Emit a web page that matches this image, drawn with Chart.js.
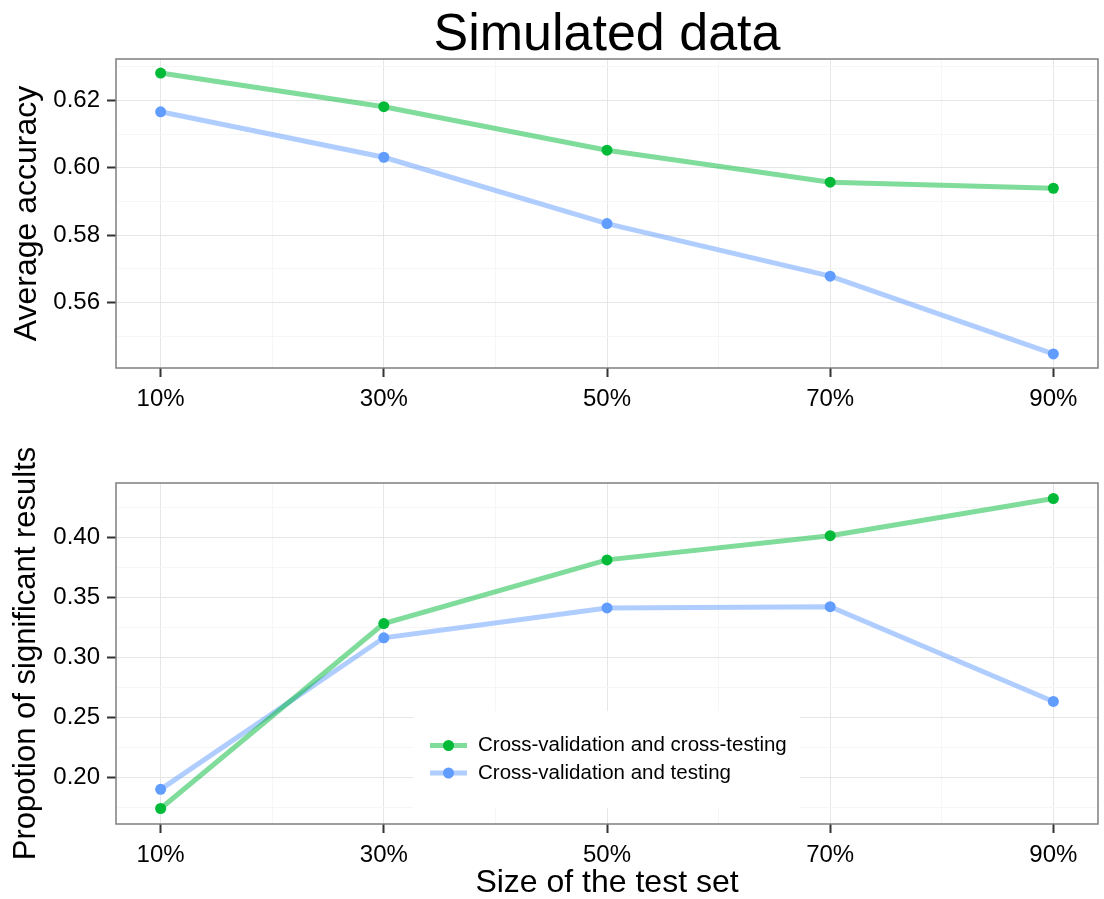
<!DOCTYPE html>
<html>
<head>
<meta charset="utf-8">
<title>Simulated data</title>
<script src="https://cdn.jsdelivr.net/npm/chart.js@4.4.1/dist/chart.umd.min.js"></script>
<style>
  html, body { margin: 0; padding: 0; background: #fff; }
  #wrap { position: relative; width: 1104px; height: 899px; }
  .box { position: absolute; left: 0; width: 1104px; }
  #topBox { top: 0; height: 420px; }
  #bottomBox { top: 420px; height: 479px; }
</style>
</head>
<body>
<div id="wrap">
  <div class="box" id="topBox"><canvas id="accChart"></canvas></div>
  <div class="box" id="bottomBox"><canvas id="sigChart"></canvas></div>
</div>
<script>
// ---- data ----
const testSizes = [10, 30, 50, 70, 90];
const seriesNames = ['Cross-validation and cross-testing', 'Cross-validation and testing'];

const accCrossTesting = [0.6281, 0.6181, 0.6052, 0.5957, 0.5939];
const accTesting      = [0.6166, 0.6031, 0.5834, 0.5678, 0.5447];

const sigCrossTesting = [0.1738, 0.3281, 0.3812, 0.4014, 0.4324];
const sigTesting      = [0.1898, 0.3162, 0.3411, 0.3422, 0.2631];

// ---- ticks (major labelled, minor only gridlines) ----
const xMajor = [10, 30, 50, 70, 90];
const xMinor = [20, 40, 60, 80];
const accMajor = [0.56, 0.58, 0.60, 0.62];
const accMinor = [0.55, 0.57, 0.59, 0.61, 0.63];
const sigMajor = [0.20, 0.25, 0.30, 0.35, 0.40];
const sigMinor = [0.175, 0.225, 0.275, 0.325, 0.375, 0.425];

const GREEN = '#00BA38';
const BLUE = '#619CFF';
const FONT = "'Liberation Sans', Arial, Helvetica, sans-serif";

// ggplot style expansion: 5% of the data range on each side
function expand(values) {
  const lo = Math.min(...values), hi = Math.max(...values);
  const pad = (hi - lo) * 0.05;
  return { min: lo - pad, max: hi + pad };
}

function toPoints(ys) {
  return testSizes.map((x, i) => ({ x, y: ys[i] }));
}

function lineDataset(label, ys, color) {
  return {
    label,
    data: toPoints(ys),
    borderColor: color + '80',
    borderWidth: 5,
    pointBackgroundColor: color,
    pointBorderWidth: 0,
    pointRadius: 5.5,
    pointHoverRadius: 5.5,
    tension: 0,
    fill: false,
    clip: false,
  };
}

function gridColor(major) {
  return ctx => (ctx.tick && major.includes(ctx.tick.value)) ? '#e6e6e6' : '#f6f6f6';
}
function tickColor(major) {
  return ctx => (ctx.tick && major.includes(ctx.tick.value)) ? '#333333' : 'rgba(0,0,0,0)';
}

// panel border all round the plotting area
const panelBorder = {
  id: 'panelBorder',
  afterDatasetsDraw(chart) {
    const { ctx, chartArea: a } = chart;
    ctx.save();
    ctx.strokeStyle = '#7f7f7f';
    ctx.lineWidth = 1.5;
    ctx.strokeRect(a.left, a.top, a.right - a.left, a.bottom - a.top);
    ctx.restore();
  },
};

const plotTitle = {
  id: 'plotTitle',
  afterDraw(chart, args, opts) {
    if (!opts.text) return;
    const { ctx, chartArea: a } = chart;
    ctx.save();
    ctx.fillStyle = '#000';
    ctx.font = `52px ${FONT}`;
    ctx.textAlign = 'center';
    ctx.textBaseline = 'alphabetic';
    ctx.fillText(opts.text, (a.left + a.right) / 2, 50);
    ctx.restore();
  },
};

// legend inside the lower panel, ggplot-like keys
const insideLegend = {
  id: 'insideLegend',
  afterDraw(chart, args, opts) {
    if (!opts.show) return;
    const { ctx } = chart;
    const left = 413, top = 291, w = 387, h = 97;
    ctx.save();
    ctx.fillStyle = '#fff';
    ctx.fillRect(left, top, w, h);
    chart.data.datasets.forEach((ds, i) => {
      const y = 325.5 + i * 27.5;
      ctx.strokeStyle = ds.borderColor;
      ctx.lineWidth = 5;
      ctx.beginPath();
      ctx.moveTo(430, y);
      ctx.lineTo(467, y);
      ctx.stroke();
      ctx.fillStyle = ds.pointBackgroundColor;
      ctx.beginPath();
      ctx.arc(448.5, y, 5.5, 0, Math.PI * 2);
      ctx.fill();
      ctx.fillStyle = '#000';
      ctx.font = `20.5px ${FONT}`;
      ctx.textAlign = 'left';
      ctx.textBaseline = 'middle';
      ctx.fillText(ds.label, 478, y);
    });
    ctx.restore();
  },
};

function makeChart(canvasId, { datasets, yTitle, yTitleSize, yMajor, yMinor, yRange, xTitle, padding, xHeight, title, legend }) {
  const yTicks = [...yMajor, ...yMinor].sort((a, b) => a - b);
  const xTicks = [...xMajor, ...xMinor].sort((a, b) => a - b);
  const xRange = expand(testSizes);

  return new Chart(document.getElementById(canvasId), {
    type: 'line',
    data: { datasets },
    options: {
      responsive: true,
      maintainAspectRatio: false,
      animation: false,
      events: [],
      layout: { padding },
      scales: {
        x: {
          type: 'linear',
          min: xRange.min,
          max: xRange.max,
          afterBuildTicks: axis => { axis.ticks = xTicks.map(v => ({ value: v })); },
          afterFit: axis => { axis.height = xHeight; },
          border: { display: false },
          grid: {
            color: gridColor(xMajor),
            lineWidth: 1,
            tickLength: 9,
            tickWidth: 2,
            tickColor: tickColor(xMajor),
          },
          ticks: {
            autoSkip: false,
            maxRotation: 0,
            minRotation: 0,
            padding: 8,
            color: '#000',
            font: { family: FONT, size: 24 },
            callback: v => xMajor.includes(v) ? v + '%' : '',
          },
          title: {
            display: !!xTitle,
            text: xTitle || '',
            color: '#000',
            font: { family: FONT, size: 32, lineHeight: 1 },
            padding: { top: 0, bottom: 0 },
          },
        },
        y: {
          type: 'linear',
          min: yRange.min,
          max: yRange.max,
          afterBuildTicks: axis => { axis.ticks = yTicks.map(v => ({ value: v })); },
          afterFit: axis => { axis.width = 116; },
          border: { display: false },
          grid: {
            color: gridColor(yMajor),
            lineWidth: 1,
            tickLength: 9,
            tickWidth: 2,
            tickColor: tickColor(yMajor),
          },
          ticks: {
            autoSkip: false,
            padding: 7,
            color: '#000',
            font: { family: FONT, size: 24 },
            callback: v => yMajor.includes(v) ? v.toFixed(2) : '',
          },
          title: {
            display: true,
            text: yTitle,
            color: '#000',
            font: { family: FONT, size: yTitleSize },
            padding: { top: 8, bottom: 0 },
          },
        },
      },
      plugins: {
        legend: { display: false },
        tooltip: { enabled: false },
        plotTitle: { text: title || '' },
        insideLegend: { show: !!legend },
      },
    },
    plugins: [panelBorder, plotTitle, insideLegend],
  });
}

makeChart('accChart', {
  datasets: [
    lineDataset(seriesNames[0], accCrossTesting, GREEN),
    lineDataset(seriesNames[1], accTesting, BLUE),
  ],
  yTitle: 'Average accuracy',
  yTitleSize: 32,
  yMajor: accMajor,
  yMinor: accMinor,
  yRange: expand([...accCrossTesting, ...accTesting]),
  padding: { top: 59, right: 6, bottom: 10, left: 0 },
  xHeight: 42,
  title: 'Simulated data',
});

makeChart('sigChart', {
  datasets: [
    lineDataset(seriesNames[0], sigCrossTesting, GREEN),
    lineDataset(seriesNames[1], sigTesting, BLUE),
  ],
  yTitle: 'Propotion of significant results',
  yTitleSize: 31,
  yMajor: sigMajor,
  yMinor: sigMinor,
  yRange: expand([...sigCrossTesting, ...sigTesting]),
  xTitle: 'Size of the test set',
  padding: { top: 63, right: 6, bottom: 0, left: 0 },
  xHeight: 75,
  legend: true,
});
</script>
</body>
</html>
